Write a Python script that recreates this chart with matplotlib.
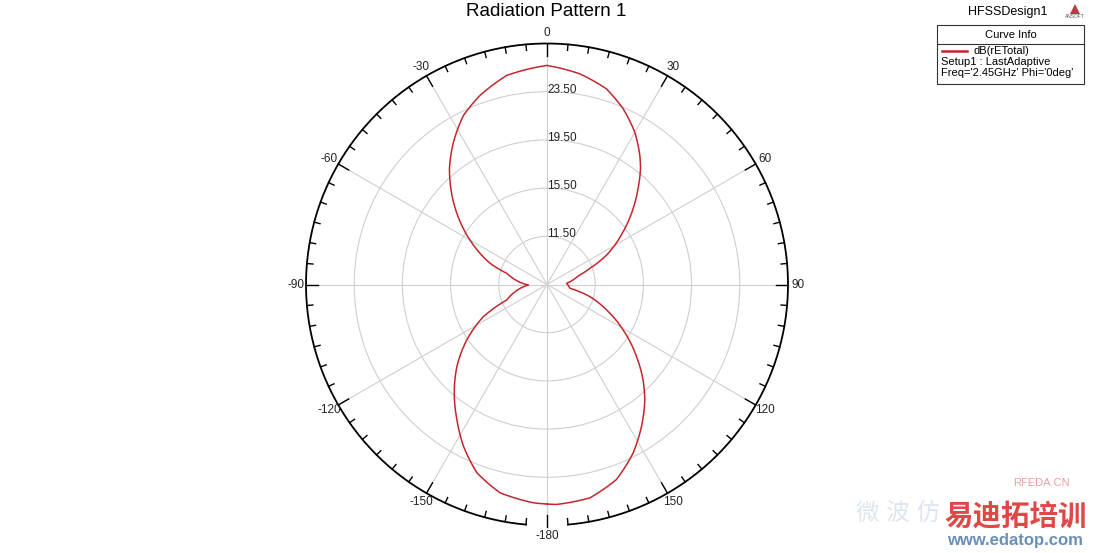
import numpy as np
import matplotlib
matplotlib.use('Agg')
from matplotlib import pyplot as plt
from matplotlib.patches import Rectangle, Polygon

plt.rcParams['font.family'] = ['Liberation Sans', 'Noto Sans CJK SC', 'DejaVu Sans']

# angle (deg, 0 at top, clockwise) and dB(rETotal)
theta_deg = [-180, -176.4, -167.3, -159.6, -152.7, -146.3, -139.5, -132.3, -124.6, -116.8,
             -111.0, -91.5, -74.5, -69.6, -61.8, -54.2, -46.8, -40.1, -33.3, -26.3,
             -19.5, -10.9, 0, 8.9, 16.9, 23.4, 29.9, 35.7, 38.9, 43.5,
             48.6, 55.3, 63.7, 69.4, 74.5, 86.5, 99.4, 105.8, 113.1, 120.8,
             128.8, 134.8, 139.7, 146.3, 152.9, 160.4, 168.6, 177.5, 180]
db_total = [25.72, 25.65, 25.22, 24.18, 22.61, 20.98, 19.35, 17.61, 15.58, 13.41,
            11.08, 9.05, 10.96, 12.53, 14.42, 16.38, 18.32, 20.07, 21.64, 23.15,
            24.15, 25.17, 25.68, 25.19, 24.47, 23.40, 22.10, 20.70, 19.86, 18.48,
            17.03, 15.18, 13.02, 11.30, 10.19, 9.13, 9.43, 11.20, 12.87, 14.85,
            17.03, 18.73, 20.05, 21.64, 23.20, 24.68, 25.56, 25.77, 25.72]

r_ticks = [11.5, 15.5, 19.5, 23.5]
r_min, r_max = 7.5, 27.5
angle_ticks = [0, 30, 60, 90, 120, 150, 180, 210, 240, 270, 300, 330]
angle_labels = ['0', '30', '60', '90', '120', '150', '-180', '-150', '-120', '-90', '-60', '-30']

W, H = 1094, 553
fig = plt.figure(figsize=(W / 100, H / 100), dpi=100)
fig.patch.set_facecolor('white')

# polar area: centre (547, 284.5) px, radius 241 px
cx, cy, rad = 547, 284.5, 241
ax = fig.add_axes([(cx - rad) / W, (H - cy - rad) / H, 2 * rad / W, 2 * rad / H], projection='polar')
ax.set_theta_zero_location('N')
ax.set_theta_direction(-1)
ax.set_ylim(r_min, r_max)
ax.spines['polar'].set_visible(False)
ax.set_facecolor('white')

ax.set_rticks(r_ticks)
ax.set_yticklabels([])
ax.set_xticks(np.deg2rad(angle_ticks))
ax.set_xticklabels([])
ax.grid(True, color='#cfcfcf', linewidth=0.8)

px2db = (r_max - r_min) / rad

# radial labels
for v in r_ticks:
    ax.text(0, v + 2 * px2db, '%.2f' % v, ha='left', va='center', fontsize=8.5, color='#222222')

# angle labels
for a, lab in zip(angle_ticks, angle_labels):
    ax.text(np.deg2rad(a), r_max + 10.5 * px2db, lab, ha='center', va='center',
            fontsize=8.5, color='#222222', clip_on=False)

# outer circle with the small gap at the bottom
arc = np.deg2rad(np.linspace(-175, 175, 700))
ax.plot(arc, np.full_like(arc, r_max), color='black', lw=1.3, clip_on=False)

# ticks every 5 deg, longer at every 30 deg
for a in range(0, 360, 5):
    if 175 < a < 185:
        continue
    L = 12 if a % 30 == 0 else 6
    t = np.deg2rad(a)
    ax.plot([t, t], [r_max, r_max - L * px2db], color='black', lw=1.0, clip_on=False)
t = np.deg2rad(180)
ax.plot([t, t], [r_max + 1 * px2db, r_max - 11 * px2db], color='black', lw=1.0, clip_on=False)

# pattern curve (drawn as polar arcs between the read points)
line, = ax.plot(np.deg2rad(theta_deg), db_total, color='#c3262b', lw=1.1)
line.get_path()._interpolation_steps = 30

# title
fig.text(546 / W, 1 - 12 / H, 'Radiation Pattern 1', ha='center', va='center', fontsize=13.5)

# design name and logo
fig.text(1008 / W, 1 - 12 / H, 'HFSSDesign1', ha='center', va='center', fontsize=9)
fig.patches.append(Polygon([[1070 / W, 1 - 14 / H], [1080 / W, 1 - 14 / H], [1075 / W, 1 - 4 / H]],
                           closed=True, transform=fig.transFigure, facecolor='#b04040', edgecolor='none'))
fig.text(1075 / W, 1 - 17 / H, 'ANSOFT', ha='center', va='center', fontsize=3.5, color='#555555')

# curve info box
bx0, bx1, by0, by1, bsep = 937, 1084, 25, 84, 44
fig.patches.append(Rectangle((bx0 / W, 1 - by1 / H), (bx1 - bx0) / W, (by1 - by0) / H,
                             transform=fig.transFigure, facecolor='white', edgecolor='#333333', lw=0.8))
fig.lines.append(plt.Line2D([bx0 / W, bx1 / W], [1 - bsep / H, 1 - bsep / H],
                            transform=fig.transFigure, color='#333333', lw=0.8))
fig.text((bx0 + bx1) / 2 / W, 1 - 35 / H, 'Curve Info', ha='center', va='center', fontsize=8)
fig.lines.append(plt.Line2D([942 / W, 967 / W], [1 - 51 / H, 1 - 51 / H],
                            transform=fig.transFigure, color='#c3262b', lw=1.8))
fig.text(973 / W, 1 - 51 / H, 'dB(rETotal)', ha='left', va='center', fontsize=8)
fig.text(941 / W, 1 - 62 / H, 'Setup1 : LastAdaptive', ha='left', va='center', fontsize=8)
fig.text(941 / W, 1 - 72.5 / H, "Freq='2.45GHz' Phi='0deg'", ha='left', va='center', fontsize=8)

# watermark
fig.text(1041 / W, 1 - 483 / H, 'RFEDA.CN', ha='center', va='center', fontsize=8, color='#e8a0a0')
fig.text(940 / W, 1 - 515 / H, '微 波 仿', ha='right', va='center', fontsize=17, color='#dde6ee')
fig.text(1016 / W, 1 - 517 / H, '易迪拓培训', ha='center', va='center', fontsize=20.5,
         color='#e04848', fontweight='bold')
fig.text(1015 / W, 1 - 541 / H, 'www.edatop.com', ha='center', va='center', fontsize=12,
         color='#6a8fb5', fontweight='bold')

fig.savefig('out.png', dpi=100, facecolor='white')
